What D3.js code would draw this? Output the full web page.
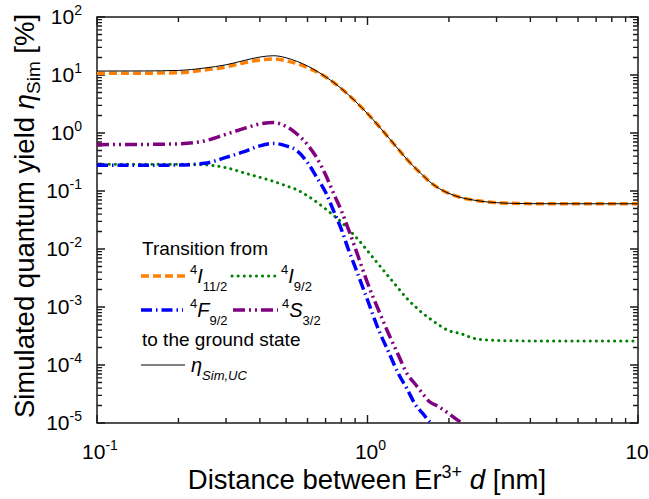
<!DOCTYPE html>
<html>
<head>
<meta charset="utf-8">
<script src="https://cdn.jsdelivr.net/npm/d3@7/dist/d3.min.js"></script>
<style>
  html, body { margin: 0; padding: 0; background: #fff; }
  svg { display: block; font-family: Arial, "Liberation Sans", sans-serif; }
</style>
</head>
<body>
<svg id="chart" width="649" height="499"></svg>
<script>
const distances = [0.1, 0.15, 0.2, 0.25, 0.3, 0.35, 0.4, 0.45, 0.5, 0.55, 0.6, 0.65, 0.7, 0.75, 0.8, 0.85, 0.9, 0.95, 1.0, 1.1, 1.2, 1.3, 1.4, 1.5, 1.6, 1.7, 1.8, 2.0, 2.2, 2.5, 3.0, 4.0, 6.0, 10.0];
const etaSimUC = [11.7, 11.75, 12.0, 13.2, 15.0, 17.8, 20.4, 21.5, 19.8, 17.1, 14.3, 11.6, 9.35, 7.43, 5.85, 4.57, 3.56, 2.77, 2.16, 1.32, 0.817, 0.526, 0.35, 0.25, 0.187, 0.144, 0.118, 0.0908, 0.0778, 0.069, 0.0628, 0.0605, 0.0602, 0.0602];
const I11_2 = [10.7, 10.75, 10.9, 12.2, 13.8, 16.3, 18.1, 18.9, 17.6, 15.6, 13.4, 11.25, 9.25, 7.43, 5.85, 4.57, 3.56, 2.77, 2.16, 1.32, 0.817, 0.526, 0.35, 0.25, 0.187, 0.144, 0.118, 0.0908, 0.0778, 0.069, 0.0628, 0.0605, 0.0602, 0.0602];
const I9_2 = [0.29, 0.29, 0.29, 0.283, 0.252, 0.205, 0.172, 0.146, 0.123, 0.1045, 0.0824, 0.064, 0.049, 0.0377, 0.0294, 0.0219, 0.0166, 0.0125, 0.0093, 0.0054, 0.0033, 0.0021, 0.0014, 0.00102, 0.00078, 0.00063, 0.00052, 0.00039, 0.00035, 0.000285, 0.000265, 0.00026, 0.00026, 0.00026];
const F9_2 = [0.277, 0.278, 0.28, 0.30, 0.38, 0.476, 0.60, 0.66, 0.60, 0.49, 0.31, 0.17, 0.095, 0.045, 0.022, 0.0098, 0.0049, 0.0025, 0.00132, 0.0004, 0.000163, 0.000071, 0.000039, 0.000021, 0.0000146, 0.0000105, 0.0000083, 0.0000065, 0.000005, 0.000004, 0.000003, 0.000003, 0.000003, 0.000003];
const S3_2 = [0.63, 0.635, 0.65, 0.73, 0.95, 1.2, 1.43, 1.51, 1.3, 0.95, 0.63, 0.37, 0.19, 0.09, 0.046, 0.022, 0.0105, 0.0051, 0.0026, 0.00087, 0.000336, 0.000149, 0.000071, 0.000047, 0.000032, 0.000023, 0.00002, 0.0000145, 0.0000105, 0.000008, 0.000006, 0.000005, 0.000005, 0.000005];

const xMajorTicks = [0.1, 1, 10];
const xTickExponents = ["-1", "0", "1"];
const yMajorTicks = [1e2, 1e1, 1e0, 1e-1, 1e-2, 1e-3, 1e-4, 1e-5];
const yTickExponents = ["2", "1", "0", "-1", "-2", "-3", "-4", "-5"];

const svg = d3.select("#chart");
const L = 97, R = 638, T = 17, B = 423;
const x = d3.scaleLog().domain([0.1, 10]).range([L, R]);
const y = d3.scaleLog().domain([1e-5, 1e2]).range([B, T]);

const xMinor = [];
[0.1, 1].forEach(b => { for (let k = 2; k <= 9; k++) xMinor.push(b * k); });
const yMinor = [];
[1e-5, 1e-4, 1e-3, 1e-2, 1e-1, 1, 10].forEach(b => { for (let k = 2; k <= 9; k++) yMinor.push(b * k); });

const axisColor = "#1a1a1a";
function xTickPath(vals, len) {
  return vals.map(v => {
    const px = x(v);
    return `M${px},${B}V${B - len}M${px},${T}V${T + len}`;
  }).join("");
}
function yTickPath(vals, len) {
  return vals.map(v => {
    const py = y(v);
    return `M${L},${py}H${L + len}M${R},${py}H${R - len}`;
  }).join("");
}
svg.append("path").attr("d", xTickPath(xMinor, 5) + xTickPath(xMajorTicks, 8) + yTickPath(yMinor, 5) + yTickPath(yMajorTicks, 8))
  .attr("fill", "none").attr("stroke", axisColor).attr("stroke-width", 1.4);
svg.append("rect").attr("x", L).attr("y", T).attr("width", R - L).attr("height", B - T)
  .attr("fill", "none").attr("stroke", axisColor).attr("stroke-width", 1.5);

const tickFont = 21, supFont = 14;
yMajorTicks.forEach((v, i) => {
  const t = svg.append("text").attr("x", 82).attr("y", y(v) + 7)
    .attr("text-anchor", "end").attr("font-size", tickFont).attr("fill", "#000");
  t.append("tspan").text("10");
  t.append("tspan").attr("font-size", supFont).attr("dy", -9).text(yTickExponents[i]);
});
xMajorTicks.forEach((v, i) => {
  const t = svg.append("text").attr("x", x(v) + 3).attr("y", 459)
    .attr("text-anchor", "middle").attr("font-size", tickFont).attr("fill", "#000");
  t.append("tspan").text("10");
  t.append("tspan").attr("font-size", supFont).attr("dy", -9).text(xTickExponents[i]);
});

const titleFont = 27.5;
const xt = svg.append("text").attr("x", 367).attr("y", 489).attr("text-anchor", "middle")
  .attr("font-size", titleFont).attr("fill", "#000");
xt.append("tspan").text("Distance between Er");
xt.append("tspan").attr("font-size", 18).attr("dy", -11).text("3+");
xt.append("tspan").attr("dy", 11).text(" ");
xt.append("tspan").attr("font-style", "italic").text("d");
xt.append("tspan").text(" [nm]");

const yt = svg.append("text").attr("transform", `translate(34,216) rotate(-90)`)
  .attr("text-anchor", "middle").attr("font-size", titleFont).attr("fill", "#000");
yt.append("tspan").text("Simulated quantum yield ");
yt.append("tspan").attr("font-style", "italic").text("η");
yt.append("tspan").attr("font-size", 19).attr("dy", 6).text("Sim");
yt.append("tspan").attr("dy", -6).text(" [%]");

svg.append("clipPath").attr("id", "plotclip").append("rect")
  .attr("x", L).attr("y", T).attr("width", R - L).attr("height", B - T);
const plot = svg.append("g").attr("clip-path", "url(#plotclip)");

const series = [
  { name: "I9", values: I9_2, color: "#008000", width: 3, dash: "0.1,6", cap: "round" },
  { name: "F9", values: F9_2, color: "#0000ff", width: 3.5, dash: "11,4,1.5,4", cap: "butt" },
  { name: "S3", values: S3_2, color: "#800080", width: 3.5, dash: "12,4,2,4,2,4", cap: "butt" },
  { name: "I11", values: I11_2, color: "#ff8000", width: 3.5, dash: "8,4", cap: "butt" },
  { name: "UC", values: etaSimUC, color: "#000", width: 1, dash: null, cap: "butt" }
];
const line = d3.line().x(d => x(d[0])).y(d => y(d[1])).curve(d3.curveMonotoneX);
series.forEach(s => {
  plot.append("path")
    .datum(distances.map((d, i) => [d, s.values[i]]))
    .attr("d", line)
    .attr("fill", "none")
    .attr("stroke", s.color)
    .attr("stroke-width", s.width)
    .attr("stroke-linecap", s.cap)
    .attr("stroke-dasharray", s.dash);
});

const legFont = 19;
svg.append("text").attr("x", 142).attr("y", 255).attr("font-size", legFont).text("Transition from");
svg.append("text").attr("x", 142).attr("y", 346).attr("font-size", legFont).text("to the ground state");
function legLine(x1, x2, yy, s) {
  svg.append("line").attr("x1", x1).attr("x2", x2).attr("y1", yy).attr("y2", yy)
    .attr("stroke", s.color).attr("stroke-width", s.width)
    .attr("stroke-linecap", s.cap).attr("stroke-dasharray", s.dash);
}
function levelLabel(xx, yy, letter, sub) {
  const t = svg.append("text").attr("x", xx).attr("y", yy).attr("font-size", 20).attr("fill", "#000");
  t.append("tspan").attr("font-size", 13).attr("dy", -9).text("4");
  t.append("tspan").attr("dy", 9).attr("font-style", "italic").text(letter);
  t.append("tspan").attr("font-size", 13).attr("dy", 8).text(sub);
}
const byName = Object.fromEntries(series.map(s => [s.name, s]));
legLine(141, 185, 276, byName.I11);
levelLabel(190, 283, "I", "11/2");
legLine(232, 276, 276, byName.I9);
levelLabel(281, 283, "I", "9/2");
legLine(141, 183, 310, byName.F9);
levelLabel(190, 317, "F", "9/2");
legLine(233, 278, 310, byName.S3);
levelLabel(282, 317, "S", "3/2");
legLine(141, 185, 365, byName.UC);
const et = svg.append("text").attr("x", 191).attr("y", 372).attr("font-size", 20).attr("font-style", "italic");
et.append("tspan").text("η");
et.append("tspan").attr("font-size", 13).attr("dy", 8).text("Sim,UC");
</script>
</body>
</html>
